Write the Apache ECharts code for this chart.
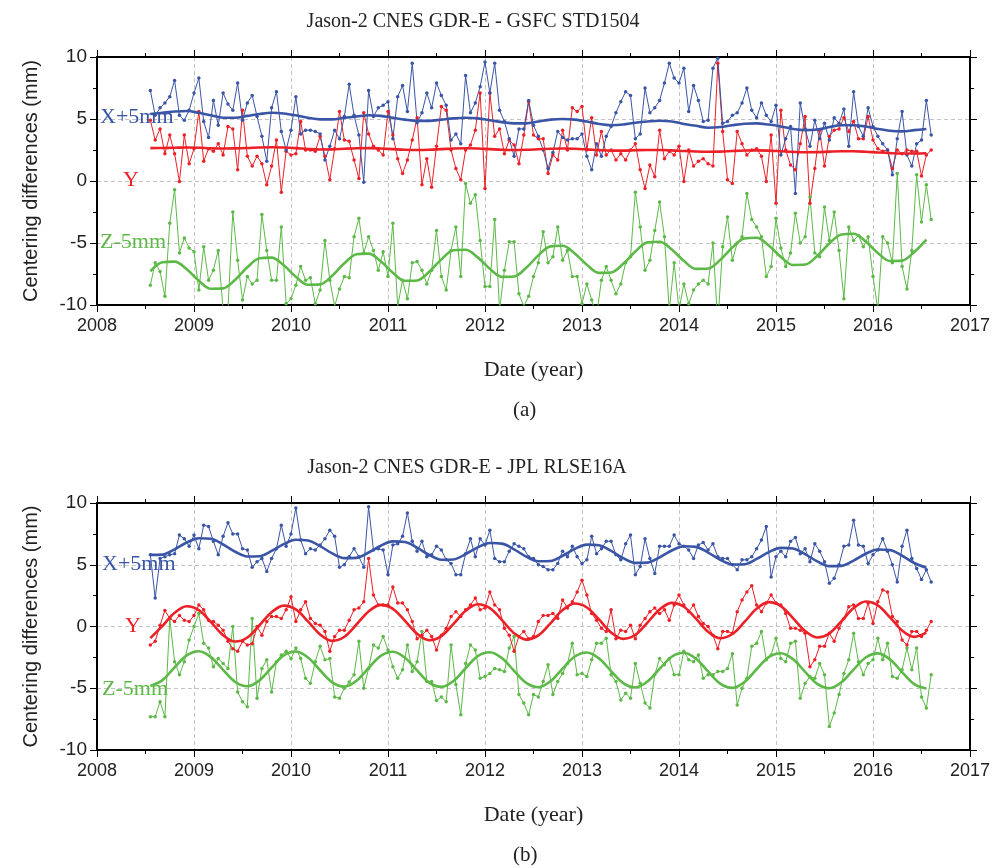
<!DOCTYPE html>
<html>
<head>
<meta charset="utf-8">
<script src="https://cdn.jsdelivr.net/npm/echarts@6/dist/echarts.min.js"></script>
<style>
  html, body { margin: 0; padding: 0; background: #fff; }
  #main { width: 997px; height: 868px; }
</style>
</head>
<body>
<div id="main"></div>
<script>
// sampling of the point series (years) and of the fitted curves
const t0 = 2008.55, dt = 0.05;
const f0 = 2008.55, df = 0.125;
const yTicks = [-10, -5, 0, 5, 10];

// (a) GSFC STD1504, values in mm (X shifted +5, Z shifted -5)
const aX = [7.3,5.3,5.9,6.3,6.8,8.1,5.3,4.9,5.7,7.1, 8.3,4.8,3.5,6.5,4.5,7.1,6.2,5.7,7.9,4.9,
  6.3,6.9,5.2,3.6,1.6,5.9,7.2,4.0,2.5,4.1, 6.8,3.8,4.1,4.1,4.0,3.8,1.7,2.8,4.1,3.4,
  5.2,7.8,5.3,3.7,-0.1,7.3,5.2,5.9,6.1,6.4, 3.4,6.8,7.7,5.6,9.5,4.7,5.5,7.1,5.9,7.9,
  6.9,6.1,3.3,3.8,3.0,8.5,5.5,6.3,7.6,9.6, 7.1,9.5,5.7,4.8,3.4,2.0,4.2,4.2,6.5,4.5,
  3.6,2.5,1.0,2.3,4.0,3.5,3.3,3.4,3.4,3.8, 2.0,0.9,3.0,2.0,3.6,4.4,5.5,6.4,7.2,6.9,
  3.4,3.8,7.5,5.5,5.9,6.5,7.9,9.5,8.3,7.9, 9.1,5.6,7.7,6.5,4.8,4.9,9.1,9.9,4.65,4.8,
  5.3,5.5,6.3,7.5,5.7,5.1,6.3,5.3,4.8,6.1, 2.1,3.4,4.4,-1.0,6.3,4.2,2.8,4.9,3.4,4.65,
  3.3,5.1,4.65,5.8,2.8,7.2,4.4,3.6,5.9,4.4, 3.6,3.0,2.5,0.5,3.4,5.6,2.1,1.2,3.0,3.3,
  6.5,3.7];
const aY = [4.9,3.3,4.2,2.2,3.7,2.2,-0.05,3.7,1.4,2.6, 5.6,1.6,2.6,2.4,3.0,2.1,4.4,4.2,0.9,5.7,
  2.0,1.2,2.0,1.4,-0.3,1.2,3.3,-0.9,2.4,2.1, 2.2,4.8,2.5,2.5,2.4,3.6,2.0,0.1,2.6,5.6,
  3.3,3.2,1.7,0.2,5.5,3.8,2.8,2.5,2.1,5.6, 3.7,1.8,0.6,1.7,3.3,5.1,-0.3,1.8,-0.5,2.8,
  6.0,5.7,2.5,1.0,0.1,2.5,2.9,4.1,7.1,-0.6, 7.1,3.6,4.2,2.2,3.3,2.9,1.4,3.7,6.4,3.7,
  3.4,3.4,0.6,2.1,1.7,4.1,2.5,5.9,5.6,6.0, 2.5,5.1,2.1,4.0,2.1,2.5,1.7,2.2,1.7,2.5,
  3.0,0.9,-0.6,1.3,0.35,4.1,1.8,2.4,2.1,2.8, -0.05,2.5,1.2,1.6,1.8,1.4,1.2,9.5,4.0,0.1,
  -0.2,4.0,3.0,2.1,2.5,2.6,2.0,-0.05,3.7,-1.8, 5.7,2.5,1.3,0.9,3.0,5.2,-1.8,1.0,4.1,1.2,
  3.6,4.1,4.2,5.1,4.0,4.8,3.4,3.4,5.2,3.3, 2.6,2.4,2.5,1.0,2.5,2.2,2.5,2.4,2.4,0.4,
  2.1,2.5];
const aZ = [-8.4,-6.6,-7.3,-9.3,-3.4,-0.7,-5.8,-4.6,-5.4,-5.7, -8.8,-5.3,-8.0,-7.2,-5.6,-10.4,-10.4,-2.5,-6.4,-9.6,
  -7.7,-8.3,-8.0,-2.7,-5.6,-8.0,-8.0,-3.7,-9.9,-9.5, -8.4,-6.9,-8.0,-7.8,-9.9,-8.8,-4.8,-8.0,-10.1,-8.7,
  -7.7,-7.8,-4.5,-3.0,-5.8,-4.5,-5.6,-7.2,-5.7,-7.7, -3.4,-10.1,-8.0,-9.5,-6.6,-6.5,-7.2,-8.3,-7.2,-4.0,
  -7.7,-8.8,-5.6,-3.7,-7.7,-0.2,-1.8,-1.1,-4.8,-8.5, -8.5,-3.1,-10.4,-7.2,-4.9,-4.9,-9.1,-10.1,-9.3,-7.7,
  -6.6,-4.1,-6.6,-6.1,-3.7,-6.4,-5.6,-7.7,-7.7,-9.9, -8.3,-9.6,-10.9,-8.0,-6.9,-8.0,-9.1,-8.3,-6.6,-6.1,
  -0.9,-3.7,-7.2,-6.4,-4.0,-1.7,-4.5,-10.4,-6.6,-10.4, -8.3,-9.9,-8.8,-8.3,-8.0,-8.3,-5.0,-11.5,-5.3,-2.9,
  -6.4,-5.0,-4.5,-1.0,-3.1,-3.7,-4.5,-7.7,-6.9,-3.0, -5.4,-6.9,-5.8,-2.6,-5.0,-4.5,-1.3,-5.8,-6.1,-2.1,
  -4.8,-2.5,-5.6,-9.5,-3.7,-4.8,-4.4,-5.3,-4.5,-7.7, -10.4,-4.5,-5.0,-6.6,0.6,-6.9,-8.7,-5.6,0.5,-3.3,
  -0.3,-3.1];

// (a) fitted curves
const aXfit = [5.4,5.5,5.6,5.65, 5.5,5.3,5.1,5.1,5.25,5.4,5.5,5.45, 5.3,5.1,4.97,4.97,5.1,5.2,5.3,5.25,
  5.1,4.95,4.85,4.85,4.95,5.05,5.1,5.05, 4.9,4.75,4.65,4.65,4.8,4.95,5.0,4.95, 4.8,4.6,4.5,4.55,4.7,4.8,4.86,4.8,
  4.6,4.45,4.3,4.35,4.5,4.62,4.65,4.55, 4.4,4.2,4.1,4.15,4.35,4.5,4.5,4.4, 4.2,4.05,4.0,4.1,4.2];
const aYfit = [2.65,2.66,2.68,2.7, 2.68,2.64,2.62,2.63,2.66,2.7,2.72,2.7, 2.65,2.58,2.54,2.55,2.6,2.64,2.65,2.62,
  2.57,2.52,2.5,2.52,2.57,2.62,2.64,2.62, 2.57,2.52,2.5,2.52,2.56,2.6,2.62,2.6, 2.55,2.49,2.45,2.45,2.48,2.5,2.5,2.47,
  2.42,2.38,2.36,2.37,2.42,2.46,2.47,2.45, 2.4,2.35,2.32,2.33,2.37,2.4,2.4,2.36, 2.3,2.25,2.22,2.22,2.24];
const aZfit = [-7.28,-6.55,-6.5,-7.12, -8.04,-8.69,-8.66,-7.96,-6.96,-6.23,-6.18,-6.8,
  -7.72,-8.37,-8.34,-7.64,-6.64,-5.91,-5.86,-6.48, -7.4,-8.05,-8.02,-7.32,-6.32,-5.59,-5.54,-6.16,
  -7.08,-7.73,-7.7,-7.0,-6.0,-5.27,-5.22,-5.84, -6.76,-7.41,-7.38,-6.68,-5.68,-4.95,-4.9,-5.52,
  -6.44,-7.09,-7.06,-6.36,-5.36,-4.63,-4.58,-5.2, -6.12,-6.77,-6.74,-6.04,-5.04,-4.31,-4.26,-4.88,
  -5.8,-6.45,-6.42,-5.72,-4.72];

// (b) JPL RLSE16A
const bX = [5.8,2.3,5.5,5.65,5.8,5.9,7.4,7.1,6.5,7.4, 6.3,8.2,8.1,6.9,5.8,7.3,8.4,7.5,7.5,6.3,
  6.2,4.8,5.25,5.5,4.45,5.5,6.3,8.2,6.5,7.5, 9.6,7.0,5.9,6.3,6.2,6.6,7.1,7.8,7.3,4.8,
  5.0,5.65,6.3,5.65,4.8,9.7,6.2,6.3,6.2,4.2, 6.6,6.7,7.3,9.2,6.9,6.1,6.9,5.65,5.8,6.5,
  6.2,5.4,5.1,4.2,4.2,5.9,7.1,5.65,7.1,6.6, 7.8,5.5,5.25,5.25,6.1,6.7,6.5,6.3,5.65,5.5,
  5.0,4.85,4.6,4.6,5.1,6.1,5.65,6.5,5.65,5.1, 5.4,7.3,5.9,6.3,6.9,6.9,5.8,5.4,6.7,7.4,
  4.2,4.85,7.1,5.5,4.3,6.5,6.5,6.5,7.4,6.7, 6.5,6.2,5.5,6.6,6.8,6.2,6.7,5.65,5.5,5.5,
  5.0,4.6,5.4,5.4,5.65,6.3,7.0,8.1,4.0,5.65, 6.1,5.65,6.9,7.2,5.9,6.3,5.25,6.7,6.1,5.25,
  3.5,3.9,5.0,6.5,6.6,8.6,6.6,6.5,5.1,5.8, 6.2,7.1,6.1,5.0,3.6,6.5,7.8,5.5,4.7,3.8,
  4.6,3.6];
const bY = [-1.5,-1.2,0.1,1.3,0.65,0.4,0.9,0.5,0.4,0.9, 1.75,1.35,0.5,0.4,0.1,-0.3,-1.2,-1.8,-2.0,-1.2,
  -1.5,-1.4,0.0,-0.7,0.4,0.8,0.8,0.65,1.35,2.4, 0.4,1.35,2.0,0.65,0.25,0.1,-0.4,-2.0,-0.8,-0.3,
  -0.3,0.5,1.35,1.5,2.0,5.5,2.55,1.75,1.75,1.75, 3.2,1.9,1.9,1.35,0.4,-1.0,-0.7,-0.3,-0.8,-1.9,
  -0.7,-0.15,0.8,1.2,0.8,1.35,1.75,2.3,1.35,1.5, 2.8,1.75,1.35,-0.15,-0.7,-2.0,-0.8,-0.4,-1.0,-0.8,
  0.4,0.9,0.9,1.05,0.65,2.15,1.5,2.0,2.8,3.75, 2.55,1.05,0.5,-0.15,-0.4,1.35,-1.0,-0.3,-0.4,0.1,
  -1.0,0.1,0.65,1.2,1.5,1.05,1.35,0.5,1.75,2.55, 1.75,1.2,1.75,0.8,0.25,0.0,-0.7,-1.8,-0.4,-0.4,
  -0.55,1.2,2.15,2.8,3.3,1.75,1.2,1.9,2.55,1.9, 1.75,1.05,-0.15,-0.15,-0.3,-0.55,-3.25,-2.7,-1.6,-1.6,
  -0.55,-1.2,-0.15,0.65,1.6,1.75,0.65,0.65,1.9,0.25, 2.0,2.95,2.8,0.8,0.4,-1.1,-1.5,-0.4,-0.4,-0.8,
  -0.3,0.4];
const bZ = [-7.3,-7.3,-6.1,-7.3,0.65,-2.85,-3.9,-2.85,-1.1,0.0, 1.05,-1.35,-1.75,-3.25,-2.6,-3.0,-3.4,0.0,-5.3,-6.1,
  -6.5,0.65,-5.8,-3.4,-2.7,-5.3,-2.85,-2.3,-2.0,-2.6, -1.75,-2.6,-4.2,-4.6,-2.85,-1.6,-2.7,-2.6,-5.7,-5.8,
  -5.0,-4.5,-3.9,-1.2,-5.0,-3.4,-1.5,-1.75,-0.8,-1.9, -3.25,-4.2,-3.5,-1.5,-3.65,-2.85,-0.4,-4.45,-4.45,-6.0,
  -5.7,-6.1,-1.5,-4.7,-7.15,-3.0,-1.5,-1.9,-4.2,-4.05, -3.8,-3.4,-3.5,-3.65,-1.75,-0.8,-5.5,-6.2,-7.15,-5.5,
  -5.7,-4.45,-3.1,-5.5,-4.45,-3.8,-3.0,-1.35,-3.9,-3.8, -4.05,-2.7,-1.35,-1.35,-0.95,-3.9,-4.45,-5.95,-5.4,-5.8,
  -3.0,-4.6,-6.2,-6.6,-3.9,-2.6,-3.1,-2.6,-3.9,-3.9, -2.0,-2.7,-2.85,-2.3,-4.2,-3.9,-3.9,-3.65,-3.65,-3.4,
  -2.2,-6.35,-5.0,-4.2,-1.6,-1.35,-0.4,-2.7,-2.3,-0.95, -2.6,-2.85,-1.35,-1.2,-5.8,-4.6,-4.05,-4.2,-3.0,-3.9,
  -8.1,-7.0,-5.5,-3.8,-2.7,-0.55,-2.85,-3.9,-3.0,-2.7, -0.95,-2.7,-1.35,-4.05,-4.2,-3.5,-1.75,-3.5,-1.75,-5.7,
  -6.6,-3.9];

// (b) fitted curves
const bXfit = [5.8,5.82,6.25,6.8, 7.15,7.1,6.64,6.05,5.67,5.69,6.12,6.67, 7.02,6.97,6.51,5.92,5.54,5.56,5.99,6.54,
  6.89,6.84,6.38,5.79,5.41,5.43,5.86,6.41, 6.76,6.71,6.25,5.66,5.28,5.3,5.73,6.28, 6.63,6.58,6.12,5.53,5.15,5.17,5.6,6.15,
  6.5,6.45,5.99,5.4,5.02,5.04,5.47,6.02, 6.37,6.32,5.86,5.27,4.89,4.91,5.34,5.89, 6.24,6.19,5.73,5.14,4.76];
const bYfit = [-0.94,0.05,1.11,1.64, 1.32,0.35,-0.7,-1.22,-0.89,0.1,1.16,1.69, 1.38,0.41,-0.64,-1.16,-0.83,0.16,1.22,1.75,
  1.43,0.46,-0.59,-1.11,-0.78,0.21,1.27,1.8, 1.49,0.52,-0.54,-1.06,-0.72,0.26,1.33,1.86, 1.54,0.57,-0.48,-1.0,-0.67,0.32,1.38,1.91,
  1.6,0.63,-0.43,-0.95,-0.61,0.37,1.44,1.97, 1.65,0.68,-0.37,-0.89,-0.56,0.43,1.49,2.02, 1.71,0.74,-0.32,-0.84,-0.5];
const bZfit = [-4.82,-4.34,-3.31,-2.34, -2.0,-2.48,-3.51,-4.49,-4.84,-4.36,-3.33,-2.35, -2.03,-2.51,-3.54,-4.52,-4.87,-4.39,-3.36,-2.38,
  -2.05,-2.53,-3.56,-4.54,-4.89,-4.41,-3.38,-2.4, -2.08,-2.56,-3.59,-4.57,-4.92,-4.44,-3.41,-2.43, -2.1,-2.58,-3.61,-4.59,-4.94,-4.46,-3.43,-2.45,
  -2.13,-2.61,-3.64,-4.62,-4.97,-4.49,-3.46,-2.48, -2.16,-2.64,-3.67,-4.65,-5.0,-4.52,-3.49,-2.51, -2.18,-2.66,-3.69,-4.67,-5.02];

const BLUE = '#3a55a6', RED = '#ec2027', GREEN = '#5cb947';
const SANS = '"Liberation Sans Narrow", "Liberation Sans", sans-serif';
const SERIF = '"Liberation Serif", serif';

function pts(arr) { return arr.map((v, i) => [+(t0 + i * dt).toFixed(3), v]); }
function fitPts(arr) { return arr.map((v, i) => [+(f0 + i * df).toFixed(4), v]); }

const chart = echarts.init(document.getElementById('main'));

function xAxes(g) {
  const common = {
    gridIndex: g, type: 'value', min: 2008, max: 2017, interval: 1,
    axisLine: { show: true, onZero: false, lineStyle: { color: '#000', width: 2 } },
    axisTick: { show: true, inside: false, length: 7, lineStyle: { color: '#000', width: 1 } },
    minorTick: { show: true, splitNumber: 2, length: 4, lineStyle: { color: '#000', width: 1 } }
  };
  return [
    Object.assign({}, common, {
      position: 'bottom',
      axisLabel: { fontFamily: SANS, fontSize: 18, color: '#222', margin: 12, formatter: v => String(v) },
      splitLine: { show: true, lineStyle: { type: [4, 3], color: '#c4c4c4', width: 1 } },
      name: 'Date (year)', nameLocation: 'middle', nameGap: 54,
      nameTextStyle: { fontFamily: SERIF, fontSize: 22, color: '#222' }
    }),
    Object.assign({}, common, { position: 'top', axisLabel: { show: false }, splitLine: { show: false } })
  ];
}
function yAxes(g) {
  const common = {
    gridIndex: g, type: 'value', min: -10, max: 10, interval: 5,
    axisLine: { show: true, onZero: false, lineStyle: { color: '#000', width: 2 } },
    axisTick: { show: true, inside: false, length: 7, lineStyle: { color: '#000', width: 1 } },
    minorTick: { show: true, splitNumber: 2, length: 4, lineStyle: { color: '#000', width: 1 } }
  };
  return [
    Object.assign({}, common, {
      position: 'left',
      axisLabel: { fontFamily: SANS, fontSize: 19, color: '#222', margin: 10,
        formatter: v => yTicks.includes(v) ? String(v) : '' },
      splitLine: { show: true, lineStyle: { type: [4, 3], color: '#c4c4c4', width: 1 } },
      name: 'Centering differences (mm)', nameLocation: 'middle', nameRotate: 90, nameGap: 56,
      nameTextStyle: { fontFamily: SANS, fontSize: 20, color: '#222' }
    }),
    Object.assign({}, common, { position: 'right', axisLabel: { show: false }, splitLine: { show: false } })
  ];
}

function raw(data, color, xi, yi) {
  return { type: 'line', xAxisIndex: xi, yAxisIndex: yi, data: pts(data), clip: true,
    symbol: 'circle', symbolSize: 3.5, showSymbol: true,
    lineStyle: { color: color, width: 1 }, itemStyle: { color: color }, z: 2 };
}
function fit(data, color, xi, yi) {
  return { type: 'line', xAxisIndex: xi, yAxisIndex: yi, data: fitPts(data), clip: true,
    smooth: 0.35, symbol: 'none', lineStyle: { color: color, width: 2.6 }, z: 3 };
}

function lbl(text, x, y, color) {
  return { type: 'text', left: x, top: y, z: 10,
    style: { text: text, fill: color, font: '22px ' + SERIF } };
}

chart.setOption({
  animation: false,
  backgroundColor: '#fff',
  title: [
    { text: 'Jason-2 CNES GDR-E - GSFC STD1504', left: 468, top: 7, textAlign: 'center',
      textStyle: { fontFamily: SERIF, fontSize: 20, fontWeight: 'normal', color: '#222' } },
    { text: 'Jason-2 CNES GDR-E - JPL RLSE16A', left: 462, top: 453, textAlign: 'center',
      textStyle: { fontFamily: SERIF, fontSize: 20, fontWeight: 'normal', color: '#222' } }
  ],
  grid: [
    { left: 97, top: 57, width: 873, height: 248 },
    { left: 97, top: 503, width: 873, height: 247 }
  ],
  xAxis: xAxes(0).concat(xAxes(1)),
  yAxis: yAxes(0).concat(yAxes(1)),
  graphic: [
    lbl('X+5mm', 100, 106, BLUE), lbl('Y', 123, 169, RED), lbl('Z-5mm', 100, 231, GREEN),
    lbl('X+5mm', 102, 553, BLUE), lbl('Y', 125, 615, RED), lbl('Z-5mm', 102, 678, GREEN),
    { type: 'text', left: 513, top: 400, style: { text: '(a)', fill: '#222', font: '21px ' + SERIF } },
    { type: 'text', left: 513, top: 845, style: { text: '(b)', fill: '#222', font: '21px ' + SERIF } }
  ],
  series: [
    raw(aZ, GREEN, 0, 0), raw(aY, RED, 0, 0), raw(aX, BLUE, 0, 0),
    fit(aZfit, GREEN, 0, 0), fit(aYfit, RED, 0, 0), fit(aXfit, BLUE, 0, 0),
    raw(bZ, GREEN, 2, 2), raw(bY, RED, 2, 2), raw(bX, BLUE, 2, 2),
    fit(bZfit, GREEN, 2, 2), fit(bYfit, RED, 2, 2), fit(bXfit, BLUE, 2, 2)
  ]
});
</script>
</body>
</html>
